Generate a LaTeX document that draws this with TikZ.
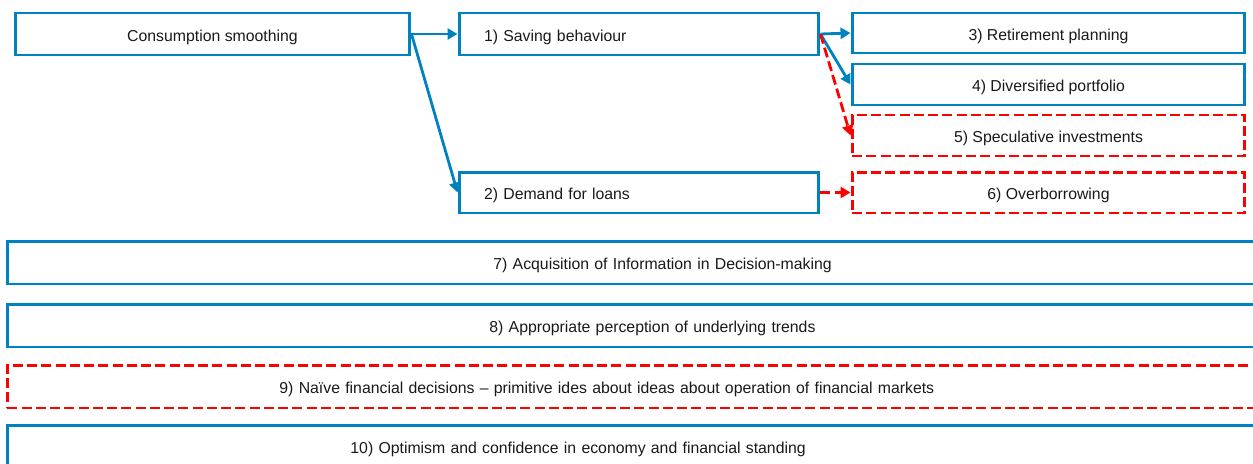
\documentclass[tikz,border=0pt]{standalone}
\usepackage{fontspec}
\setmainfont{Liberation Sans}
\usetikzlibrary{arrows.meta,positioning}
\definecolor{boxblue}{RGB}{0,130,192}
\definecolor{riskred}{RGB}{255,0,0}

\begin{document}
\begin{tikzpicture}[x=0.02cm, y=-0.02cm, >={Triangle[length=2mm,width=2.2mm]},
  box/.style={draw=boxblue, line width=1.7pt, inner sep=0pt, minimum height=0.84cm, text=black!90, text height=8.5pt, text depth=0pt, font=\fontsize{9}{11}\selectfont},
  riskbox/.style={box, draw=riskred, dash pattern=on 0.2cm off 0.085cm},
  link/.style={->, color=boxblue, line width=1.6pt},
  risklink/.style={->, color=riskred, line width=1.6pt, dash pattern=on 0.2cm off 0.085cm}]
\useasboundingbox (0,0) rectangle (1253,463);
% top chain
\node[box, minimum width=7.9cm] (smooth) at (212.5,34) {Consumption smoothing};
\node[box, minimum width=7.2cm, text width=6.2cm, align=left] (saving) at (639,34) {1) Saving behaviour};
\node[box, minimum width=7.2cm, text width=6.2cm, align=left, minimum height=0.82cm] (loans) at (639,192.5) {2) Demand for loans};
\node[box, minimum width=7.86cm, minimum height=0.8cm] (retire) at (1048.5,33) {3) Retirement planning};
\node[box, minimum width=7.86cm, minimum height=0.82cm] (divers) at (1048.5,84.5) {4) Diversified portfolio};
\node[riskbox, minimum width=7.86cm, minimum height=0.82cm] (specul) at (1048.5,135.5) {5) Speculative investments};
\node[riskbox, minimum width=7.86cm, minimum height=0.82cm] (overb) at (1048.5,192.5) {6) Overborrowing};
\draw[link] (smooth.east) -- (saving.west);
\draw[link] (smooth.east) -- (loans.west);
\draw[link] (saving.east) -- (retire.west);
\draw[link] (saving.east) -- (divers.west);
\draw[risklink] (saving.east) -- (specul.west);
\draw[risklink] (loans.east) -- (overb.west);
% wide rows
\node[box, anchor=west, minimum width=26.8cm, minimum height=0.86cm, text width=7.36cm, align=left] (inform) at (6,262.5) {7) Acquisition of Information in Decision-making};
\node[box, anchor=west, minimum width=26.8cm, minimum height=0.86cm, text width=7.52cm, align=left] (trends) at (6,325.5) {8) Appropriate perception of underlying trends};
\node[riskbox, anchor=west, minimum width=26.8cm, minimum height=0.86cm, text width=15.92cm, align=left] (naive) at (6,386.5) {9) Naïve financial decisions – primitive ides about ideas about operation of financial markets};
\node[box, anchor=west, minimum width=26.8cm, minimum height=0.86cm, text width=13.08cm, align=left] (optim) at (6,446.5) {10) Optimism and confidence in economy and financial standing};
\end{tikzpicture}
\end{document}
